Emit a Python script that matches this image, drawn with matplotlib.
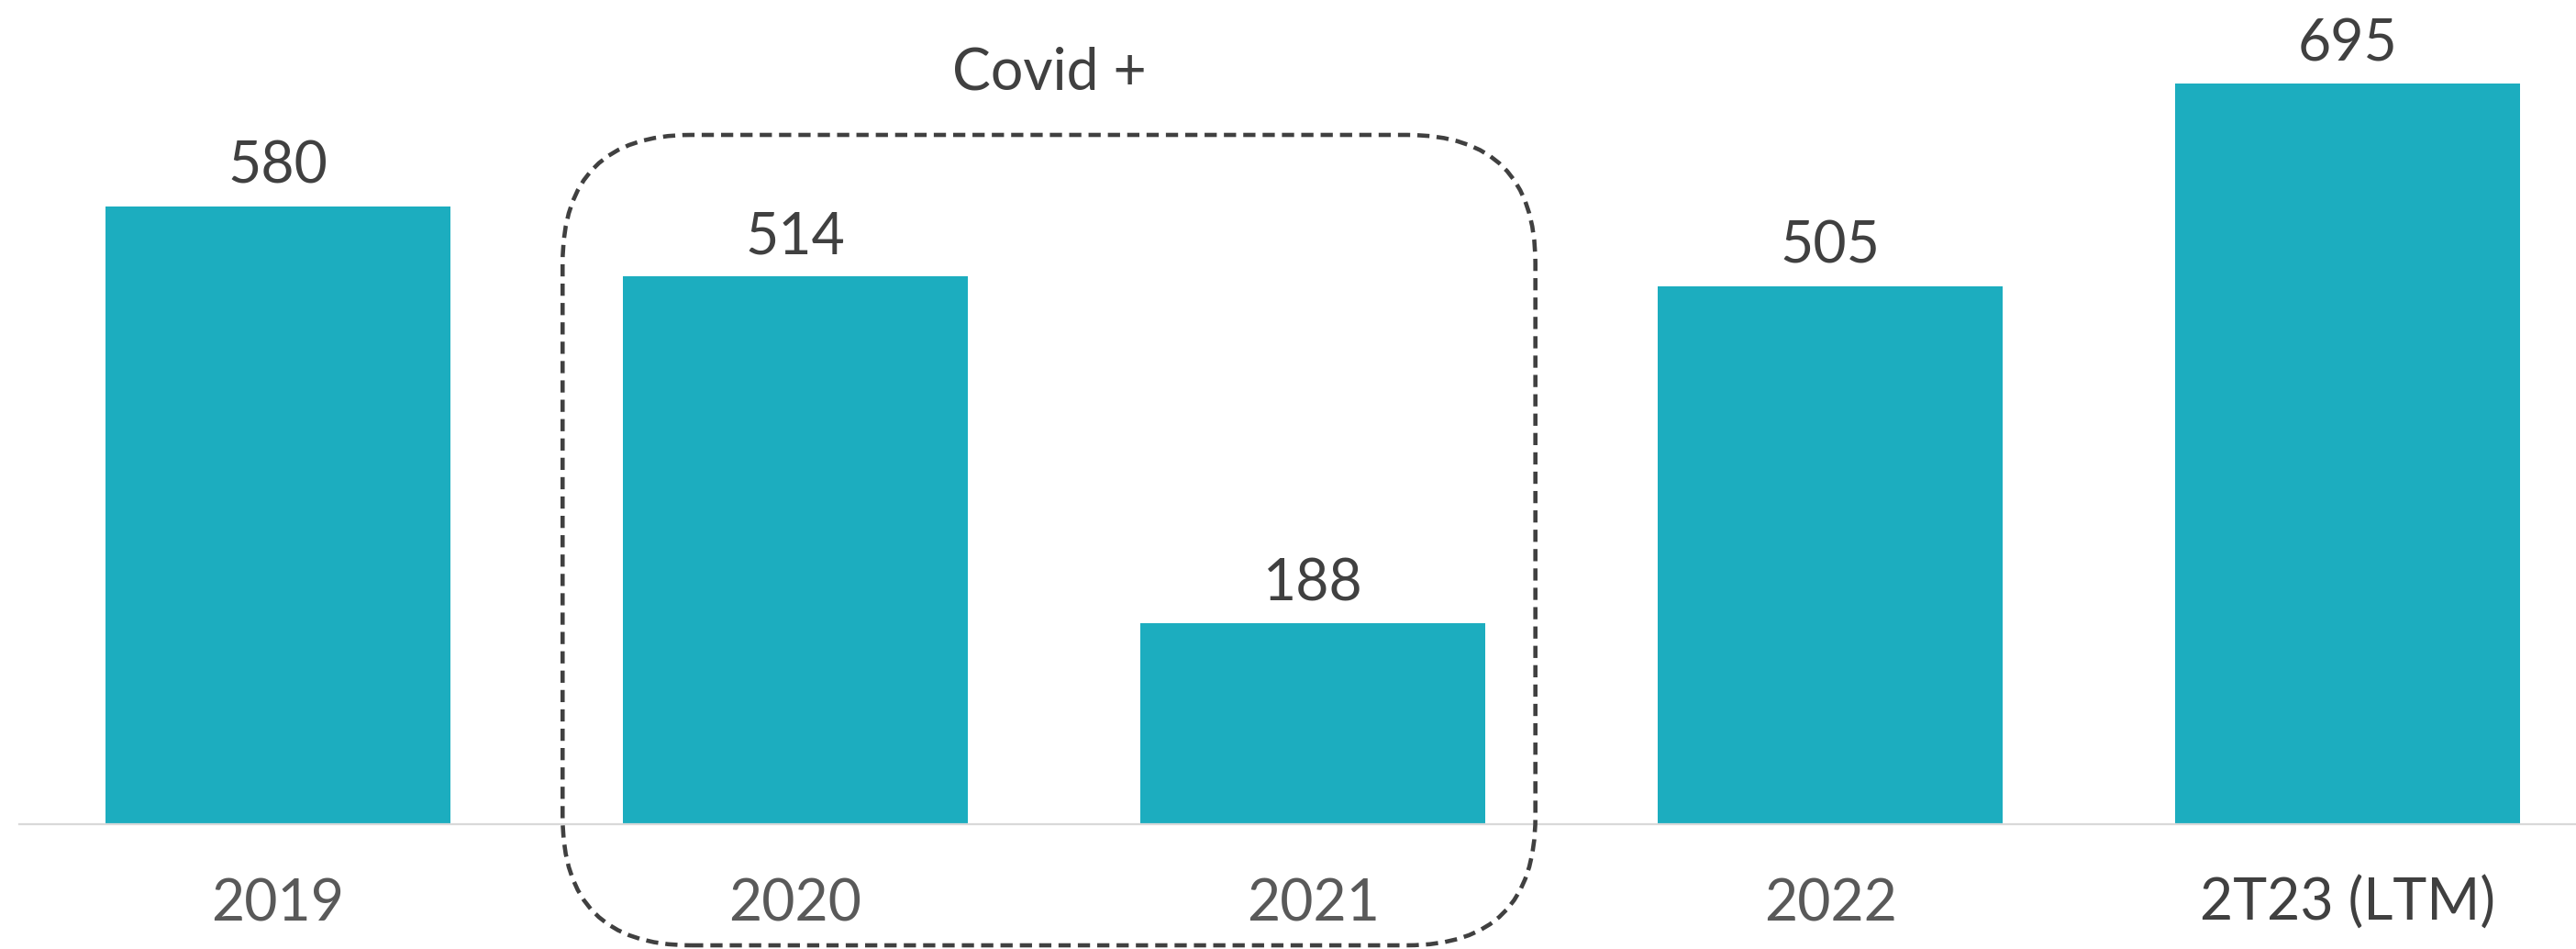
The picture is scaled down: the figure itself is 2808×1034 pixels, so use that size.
import matplotlib
matplotlib.use("Agg")
import matplotlib.pyplot as plt
from matplotlib.patches import FancyBboxPatch
from matplotlib.transforms import IdentityTransform

categories = ["2019", "2020", "2021", "2022", "2T23 (LTM)"]
values = [580, 514, 188, 505, 695]
group_label = "Covid +"

BAR = "#1CADBF"
W, H, DPI = 2808, 1034, 100

plt.rcParams['font.family'] = ['Lato', 'DejaVu Sans']

fig = plt.figure(figsize=(W / DPI, H / DPI), dpi=DPI)
ax = fig.add_axes([21 / W, (H - 897.5) / H, (W - 21) / W, 897.5 / H])

x = list(range(len(categories)))
ax.bar(x, values, width=0.667, color=BAR, zorder=2)
ax.set_xlim(-0.5, 4.441)
ax.set_ylim(0, 773.5)

for s in ["top", "right", "left"]:
    ax.spines[s].set_visible(False)
ax.spines["bottom"].set_color("#D9D9D9")
ax.spines["bottom"].set_linewidth(1.6)
ax.set_yticks([])
ax.set_xticks([])

for xi, v in zip(x, values):
    ax.annotate(f"{v}", (xi, v), xytext=(0, 18), textcoords="offset points",
                ha="center", va="baseline", fontsize=45, color="#404040",
                fontweight="normal")

for xi, c in zip(x, categories):
    last = (c == categories[-1])
    ax.annotate(c, (xi, 0), xytext=(0, -76), textcoords="offset points",
                ha="center", va="baseline", fontsize=45,
                color="#404040" if last else "#595959",
                fontweight="normal")

# dashed rounded group box (Covid period: 2020-2021)
fig.canvas.draw()
x0 = ax.transData.transform((0.55, 0))[0]
x1 = ax.transData.transform((2.43, 0))[0]
y_top = H - 147
y_bot = H - 1030
box = FancyBboxPatch((x0, y_bot), x1 - x0, y_top - y_bot,
                     boxstyle="round,pad=0,rounding_size=140",
                     transform=IdentityTransform(), fill=False,
                     edgecolor="#404040", linewidth=3.3,
                     linestyle=(0, (2.9, 1.7)), zorder=5)
fig.add_artist(box)
fig.text((x0 + x1) / 2 / W, (H - 98) / H, group_label, ha="center", va="baseline",
         fontsize=45, color="#404040", fontweight="normal")

fig.savefig("out.png", dpi=DPI)
